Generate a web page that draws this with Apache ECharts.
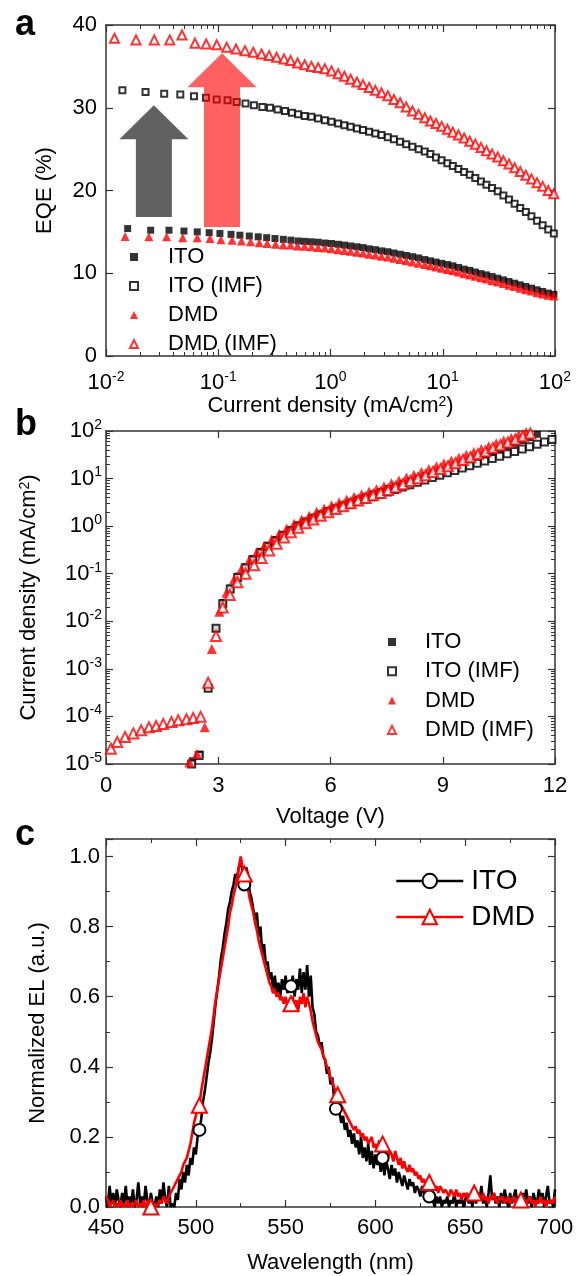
<!DOCTYPE html>
<html>
<head>
<meta charset="utf-8">
<script src="https://cdn.jsdelivr.net/npm/echarts@6.0.0/dist/echarts.min.js"></script>
<style>
  html, body { margin: 0; padding: 0; background: #fff; }
  #chart { width: 577px; height: 1276px; }
</style>
</head>
<body>
<div id="chart"></div>
<script>
// ---------- panel a : EQE vs current density ----------
// points above ~0.5 mA/cm2 are dense, all four curves share roughly the same J
const jHigh = [0.589, 0.676, 0.776, 0.891, 1.02, 1.17, 1.33, 1.51, 1.72, 1.95,
  2.21, 2.51, 2.85, 3.24, 3.67, 4.17, 4.73, 5.37, 6.10, 6.92,
  7.76, 8.71, 9.77, 11.0, 12.3, 13.8, 15.5, 17.4, 19.5, 21.9,
  24.5, 27.5, 30.9, 34.7, 38.9, 43.7, 49.0, 55.0, 61.7, 69.2,
  77.6, 87.1, 97.7];

const itoJ = [0.0156, 0.025, 0.0364, 0.0495, 0.065, 0.083, 0.1035, 0.13, 0.156, 0.189, 0.227, 0.27, 0.32, 0.38, 0.444, 0.515];
const itoEqe = [15.4, 15.2, 15.2, 15.1, 15.0, 14.9, 14.8, 14.7, 14.6, 14.5, 14.4, 14.3, 14.2, 14.1, 14.0, 13.9,
  13.85, 13.8, 13.75, 13.65, 13.6, 13.5, 13.4, 13.3, 13.2, 13.1,
  12.95, 12.85, 12.7, 12.6, 12.45, 12.3, 12.15, 12.0, 11.85, 11.65,
  11.5, 11.35, 11.2, 11.05, 10.9, 10.7, 10.5, 10.35, 10.15, 9.95,
  9.8, 9.6, 9.4, 9.2, 9.0, 8.8, 8.6, 8.4, 8.2, 8.0,
  7.8, 7.6, 7.45];

const itoImfJ = [0.014, 0.0225, 0.033, 0.0459, 0.0608, 0.0777, 0.0968, 0.121, 0.146, 0.175, 0.208, 0.247, 0.289, 0.338, 0.393, 0.453, 0.515];
const itoImfEqe = [32.1, 31.9, 31.7, 31.6, 31.4, 31.2, 31.0, 30.9, 30.7, 30.5, 30.3, 30.1, 30.0, 29.8, 29.6, 29.4, 29.2,
  29.0, 28.9, 28.7, 28.5, 28.3, 28.1, 27.9, 27.7, 27.5, 27.3,
  27.1, 26.9, 26.7, 26.45, 26.2, 25.9, 25.6, 25.3, 25.0, 24.7,
  24.4, 24.0, 23.65, 23.3, 22.95, 22.6, 22.25, 21.9, 21.5, 21.1,
  20.7, 20.3, 19.9, 19.4, 18.9, 18.4, 17.9, 17.4, 16.9, 16.35,
  15.8, 15.3, 14.8];

const dmdJ = [0.0148, 0.0241, 0.0347, 0.0482, 0.065, 0.0844, 0.1057, 0.133, 0.161, 0.194, 0.232, 0.273, 0.324, 0.379, 0.441, 0.509];
const dmdEqe = [14.45, 14.4, 14.4, 14.3, 14.3, 14.2, 14.05, 14.0, 13.9, 13.8, 13.7, 13.6, 13.5, 13.4, 13.4, 13.3,
  13.25, 13.2, 13.1, 13.05, 12.95, 12.85, 12.75, 12.65, 12.55, 12.45,
  12.3, 12.2, 12.05, 11.95, 11.8, 11.65, 11.5, 11.35, 11.2, 11.05,
  10.9, 10.75, 10.6, 10.45, 10.3, 10.15, 9.95, 9.8, 9.65, 9.45,
  9.3, 9.1, 8.95, 8.75, 8.55, 8.4, 8.2, 8.0, 7.85, 7.65,
  7.5, 7.35, 7.25];

const dmdImfJ = [0.0119, 0.0185, 0.0269, 0.037, 0.0475, 0.062, 0.078, 0.097, 0.119, 0.144, 0.173, 0.205, 0.243, 0.284, 0.331, 0.385, 0.441, 0.509];
const dmdImfEqe = [38.4, 38.2, 38.2, 38.2, 38.8, 37.8, 37.7, 37.6, 37.3, 37.1, 36.9, 36.7, 36.5, 36.3, 36.1, 35.9, 35.7, 35.4,
  35.2, 35.0, 34.85, 34.7, 34.45, 34.1, 33.8, 33.45, 33.1, 32.8,
  32.45, 32.1, 31.8, 31.45, 31.0, 30.6, 30.1, 29.6, 29.2, 28.8,
  28.4, 28.1, 27.75, 27.4, 27.05, 26.7, 26.35, 25.95, 25.6, 25.2,
  24.8, 24.4, 24.05, 23.6, 23.2, 22.75, 22.3, 21.85, 21.4, 20.95,
  20.5, 20.0, 19.6];

// arrows drawn on panel a (data coords: J, EQE at tip and at base)
const arrowGray = { j: 0.0267, tip: 30.3, base: 16.8, color: 'rgba(0,0,0,0.62)' };
const arrowRed = { j: 0.108, tip: 36.6, base: 15.6, color: 'rgba(255,0,0,0.62)' };

// ---------- panel b : J-V ----------
const itoV = [2.05, 2.31, 2.51, 2.72, 2.93, 3.13, 3.33, 3.53, 3.73, 3.93, 4.13, 4.33, 4.53, 4.73, 4.93,
  5.13, 5.33, 5.53, 5.73, 5.93, 6.13, 6.33, 6.53, 6.73, 6.93, 7.13, 7.33, 7.53, 7.73, 7.93,
  8.13, 8.33, 8.53, 8.73, 8.93, 9.13, 9.33, 9.53, 9.73, 9.93, 10.13, 10.33, 10.53, 10.73, 10.93,
  11.13, 11.33, 11.53];
const itoJV = [8e-6, 1.17e-5, 1.62e-5, 4e-4, 7e-3, 0.025, 0.05, 0.089, 0.141, 0.209, 0.295, 0.398, 0.525, 0.676, 0.851,
  1.07, 1.29, 1.55, 1.82, 2.14, 2.45, 2.82, 3.24, 3.72, 4.17, 4.79, 5.37, 6.17, 6.92, 7.94,
  8.91, 10.2, 11.5, 13.2, 14.8, 17.0, 19.1, 21.9, 24.5, 28.2, 31.6, 36.3, 41.7, 47.9, 55.0,
  63.1, 72.4, 85.1];

const itoImfV = [2.09, 2.29, 2.49, 2.73, 2.94, 3.12, 3.32, 3.52, 3.72, 3.92, 4.12, 4.32, 4.52, 4.72, 4.92,
  5.12, 5.32, 5.52, 5.72, 5.92, 6.12, 6.32, 6.52, 6.72, 6.92, 7.12, 7.32, 7.52, 7.72, 7.92,
  8.12, 8.32, 8.52, 8.72, 8.92, 9.12, 9.32, 9.52, 9.72, 9.92, 10.12, 10.32, 10.52, 10.72, 10.92,
  11.12, 11.32, 11.52, 11.72, 11.92];
const itoImfJV = [7e-6, 1.0e-5, 1.5e-5, 3.9e-4, 7.1e-3, 0.0234, 0.048, 0.083, 0.132, 0.195, 0.275, 0.372, 0.49, 0.631, 0.794,
  0.977, 1.17, 1.41, 1.66, 1.95, 2.24, 2.57, 2.88, 3.31, 3.72, 4.17, 4.68, 5.25, 5.89, 6.61,
  7.41, 8.32, 9.33, 10.5, 11.7, 13.2, 14.8, 16.6, 18.6, 20.9, 23.4, 26.3, 29.5, 33.1, 37.2,
  41.7, 46.8, 52.5, 58.9, 66.1];

const dmdV = [2.03, 2.23, 2.43, 2.64, 2.83, 3.03, 3.22, 3.42, 3.62, 3.83, 4.03, 4.23, 4.43, 4.63, 4.83,
  5.03, 5.23, 5.43, 5.63, 5.83, 6.03, 6.23, 6.43, 6.63, 6.83, 7.03, 7.23, 7.43, 7.63, 7.83,
  8.03, 8.23, 8.43, 8.63, 8.83, 9.03, 9.23, 9.43, 9.63, 9.83, 10.03, 10.23, 10.43, 10.63, 10.83,
  11.03, 11.23];
const dmdJV = [6e-6, 1.07e-5, 1.62e-5, 5.9e-5, 2.6e-3, 0.0158, 0.04, 0.076, 0.126, 0.195, 0.282, 0.389, 0.525, 0.692, 0.891,
  1.12, 1.38, 1.66, 2.0, 2.34, 2.75, 3.16, 3.63, 4.17, 4.68, 5.37, 6.03, 6.92, 7.94, 9.12,
  10.5, 12.0, 13.8, 15.8, 18.2, 20.9, 24.0, 27.5, 31.6, 36.3, 41.7, 47.9, 55.0, 63.1, 72.4,
  83.2, 95.5];

const dmdImfV = [0.13, 0.30, 0.51, 0.73, 0.94, 1.15, 1.34, 1.53, 1.75, 1.93, 2.15, 2.33, 2.53,
  2.73, 2.94, 3.12, 3.31, 3.51, 3.73, 3.96, 4.16, 4.36, 4.56, 4.76, 4.94,
  5.14, 5.34, 5.54, 5.74, 5.94, 6.14, 6.34, 6.54, 6.74, 6.94, 7.14, 7.34, 7.54, 7.74, 7.94,
  8.14, 8.34, 8.54, 8.74, 8.94, 9.14, 9.34, 9.54, 9.74, 9.94, 10.14, 10.34, 10.54, 10.74, 10.94,
  11.14, 11.34];
const dmdImfJV = [2.1e-5, 2.9e-5, 3.7e-5, 4.4e-5, 5.1e-5, 5.9e-5, 6.3e-5, 6.9e-5, 7.6e-5, 8.3e-5, 8.7e-5, 9.3e-5, 9.8e-5,
  5.1e-4, 4.9e-3, 0.0195, 0.0355, 0.066, 0.1, 0.15, 0.214, 0.309, 0.427, 0.575, 0.741,
  0.93, 1.15, 1.38, 1.66, 1.95, 2.29, 2.63, 3.02, 3.47, 3.89, 4.47, 5.0, 5.75, 6.6, 7.6,
  8.9, 10.2, 11.7, 13.8, 15.8, 18.2, 20.9, 24.5, 28.2, 32.4, 37.2, 43.7, 50.1, 57.5, 66.1,
  77.6, 89.1];

// ---------- panel c : EL spectra (1 nm steps from 450 nm) ----------
const wlStart = 450;
const itoEL = [0.03, 0.00, 0.06, 0.01, 0.04, 0.00, 0.05, 0.02, 0.00, 0.04,
  0.01, 0.06, 0.00, 0.03, 0.01, 0.05, 0.00, 0.02, 0.07, 0.01,
  0.03, 0.00, 0.06, 0.02, 0.00, 0.04, 0.01, 0.00, 0.03, 0.00,
  0.05, 0.01, 0.07, 0.02, 0.00, 0.06, 0.00, 0.01, 0.00, 0.04,
  0.02, 0.08, 0.05, 0.10, 0.07, 0.12, 0.09, 0.14, 0.12, 0.17,
  0.15, 0.20, 0.22, 0.25, 0.30, 0.33, 0.37, 0.41, 0.44, 0.48,
  0.53, 0.58, 0.62, 0.66, 0.71, 0.74, 0.78, 0.81, 0.85, 0.87,
  0.90, 0.92, 0.95, 0.94, 0.97, 0.99, 0.96, 0.92, 0.97, 0.95,
  0.90, 0.88, 0.85, 0.82, 0.84, 0.77, 0.80, 0.72, 0.75, 0.69,
  0.70, 0.65, 0.67, 0.62, 0.66, 0.61, 0.64, 0.60, 0.65, 0.62,
  0.66, 0.61, 0.64, 0.63, 0.66, 0.60, 0.65, 0.62, 0.68, 0.61,
  0.67, 0.62, 0.69, 0.60, 0.66, 0.57, 0.55, 0.50, 0.49, 0.46,
  0.47, 0.43, 0.42, 0.38, 0.40, 0.35, 0.37, 0.31, 0.28, 0.29,
  0.27, 0.24, 0.26, 0.22, 0.24, 0.20, 0.22, 0.18, 0.21, 0.17,
  0.19, 0.15, 0.20, 0.14, 0.17, 0.13, 0.18, 0.12, 0.16, 0.11,
  0.15, 0.12, 0.14, 0.10, 0.14, 0.09, 0.13, 0.11, 0.08, 0.12,
  0.09, 0.11, 0.07, 0.10, 0.08, 0.06, 0.09, 0.07, 0.05, 0.08,
  0.06, 0.07, 0.04, 0.06, 0.05, 0.03, 0.06, 0.04, 0.02, 0.05,
  0.03, 0.04, 0.02, 0.00, 0.03, 0.01, 0.03, 0.00, 0.02, 0.01,
  0.03, 0.00, 0.02, 0.01, 0.04, 0.00, 0.02, 0.01, 0.03, 0.00,
  0.02, 0.04, 0.01, 0.03, 0.00, 0.05, 0.01, 0.03, 0.02, 0.06,
  0.01, 0.03, 0.00, 0.04, 0.09, 0.02, 0.04, 0.01, 0.03, 0.00,
  0.04, 0.01, 0.05, 0.02, 0.00, 0.04, 0.01, 0.03, 0.05, 0.01,
  0.03, 0.00, 0.04, 0.02, 0.05, 0.01, 0.03, 0.00, 0.04, 0.02,
  0.01, 0.05, 0.02, 0.04, 0.00, 0.03, 0.06, 0.01, 0.02, 0.00,
  0.05];
const dmdEL = [0.03, 0.02, 0.00, 0.01, 0.02, 0.00, 0.01, 0.00, 0.02, 0.00,
  0.01, 0.00, 0.02, 0.00, 0.01, 0.00, 0.01, 0.02, 0.00, 0.01,
  0.00, 0.02, 0.00, 0.01, 0.02, 0.00, 0.00, 0.01, 0.00, 0.01,
  0.02, 0.01, 0.03, 0.02, 0.01, 0.03, 0.04, 0.05, 0.06, 0.07,
  0.08, 0.09, 0.10, 0.12, 0.13, 0.14, 0.16, 0.18, 0.21, 0.24,
  0.26, 0.28, 0.29, 0.33, 0.36, 0.39, 0.42, 0.45, 0.48, 0.51,
  0.55, 0.59, 0.62, 0.65, 0.68, 0.71, 0.74, 0.77, 0.80, 0.84,
  0.86, 0.89, 0.91, 0.94, 0.97, 1.00, 0.97, 0.95, 0.93, 0.91,
  0.88, 0.86, 0.84, 0.81, 0.79, 0.76, 0.74, 0.72, 0.70, 0.68,
  0.66, 0.64, 0.63, 0.61, 0.62, 0.60, 0.61, 0.59, 0.60, 0.58,
  0.60, 0.57, 0.59, 0.58, 0.60, 0.57, 0.59, 0.56, 0.60, 0.58,
  0.61, 0.57, 0.60, 0.58, 0.56, 0.53, 0.51, 0.49, 0.47, 0.46,
  0.45, 0.43, 0.42, 0.40, 0.39, 0.37, 0.36, 0.34, 0.33, 0.32,
  0.30, 0.29, 0.28, 0.27, 0.27, 0.25, 0.24, 0.24, 0.22, 0.23,
  0.21, 0.22, 0.20, 0.21, 0.19, 0.20, 0.18, 0.19, 0.20, 0.17,
  0.18, 0.16, 0.19, 0.17, 0.18, 0.15, 0.17, 0.14, 0.16, 0.15,
  0.13, 0.16, 0.14, 0.12, 0.14, 0.11, 0.13, 0.11, 0.10, 0.12,
  0.10, 0.11, 0.09, 0.10, 0.08, 0.09, 0.07, 0.08, 0.06, 0.08,
  0.07, 0.06, 0.07, 0.05, 0.06, 0.04, 0.06, 0.05, 0.04, 0.05,
  0.05, 0.03, 0.05, 0.04, 0.03, 0.05, 0.03, 0.04, 0.02, 0.04,
  0.03, 0.04, 0.02, 0.03, 0.05, 0.04, 0.02, 0.04, 0.03, 0.02,
  0.04, 0.02, 0.03, 0.01, 0.03, 0.02, 0.04, 0.02, 0.01, 0.03,
  0.02, 0.03, 0.01, 0.02, 0.03, 0.01, 0.02, 0.03, 0.01, 0.02,
  0.02, 0.02, 0.03, 0.02, 0.01, 0.02, 0.03, 0.01, 0.02, 0.00,
  0.02, 0.01, 0.03, 0.01, 0.02, 0.00, 0.02, 0.01, 0.02, 0.01,
  0.03];
const itoMarks = [502, 527, 553, 578, 604, 630];
const dmdMarks = [475, 502, 527, 553, 579, 604, 630, 655, 681];

// ---------- helpers ----------
const FONT = '"Liberation Sans", Arial, sans-serif';
const AXIS = '#333';

const pairs = (xs, ys) => xs.map((x, i) => [x, ys[i]]);

function spectrum(values, marks) {
  return values.map((v, i) => {
    const w = wlStart + i;
    return marks.includes(w) ? { value: [w, v] } : { value: [w, v], symbol: 'none' };
  });
}

const powRich = {
  b: { fontSize: 22, lineHeight: 26, fontFamily: FONT, color: '#000' },
  s: { fontSize: 14, lineHeight: 14, verticalAlign: 'top', fontFamily: FONT, color: '#000' }
};
const powLabel = v => '{b|10}{s|' + Math.round(Math.log10(v)) + '}';

function axis(gridIndex, position, scale, label, name) {
  const shown = position === 'bottom' || position === 'left';
  const a = Object.assign({
    gridIndex: gridIndex,
    position: position,
    axisLine: { show: true, onZero: false, lineStyle: { color: AXIS, width: 1.5 } },
    axisTick: { show: true, inside: true, length: 7, lineStyle: { color: AXIS, width: 1.2 } },
    minorTick: { show: !!scale.minor, splitNumber: scale.minor || 5, length: 4, lineStyle: { color: AXIS, width: 1 } },
    splitLine: { show: false },
    minorSplitLine: { show: false },
    axisLabel: Object.assign({ show: shown, color: '#000', fontSize: 22, fontFamily: FONT }, label || {})
  }, scale);
  delete a.minor;
  if (!shown) a.axisLabel.show = false;
  if (name && shown) {
    Object.assign(a, {
      name: name.text,
      nameLocation: 'middle',
      nameGap: name.gap,
      nameTextStyle: Object.assign({ color: '#000', fontSize: 22, fontFamily: FONT }, name.style || {})
    });
  }
  return a;
}

const scaleAx = { type: 'log', logBase: 10, min: 0.01, max: 100, interval: 1, minor: 9 };
const scaleAy = { type: 'value', min: 0, max: 40, interval: 10 };
const scaleBx = { type: 'value', min: 0, max: 12, interval: 3 };
const scaleBy = { type: 'log', logBase: 10, min: 1e-5, max: 100, interval: 1, minor: 9 };
const scaleCx = { type: 'value', min: 450, max: 700, interval: 50, minor: 2 };
const scaleCy = { type: 'value', min: 0, max: 1.05, interval: 0.2, minor: 2 };

const supName = { rich: { s: { fontSize: 14, verticalAlign: 'top', fontFamily: FONT, color: '#000' } } };

const chart = echarts.init(document.getElementById('chart'), null, { renderer: 'canvas' });

const option = {
  animation: false,
  backgroundColor: '#fff',
  textStyle: { fontFamily: FONT },
  grid: [
    { left: 106, top: 25, width: 449, height: 331 },
    { left: 106, top: 431, width: 449, height: 333 },
    { left: 106, top: 839, width: 449, height: 368 }
  ],
  xAxis: [
    axis(0, 'bottom', scaleAx, { formatter: powLabel, rich: powRich, margin: 14 },
      { text: 'Current density (mA/cm{s|2})', gap: 39, style: supName }),
    axis(0, 'top', scaleAx),
    axis(1, 'bottom', scaleBx, { margin: 11 }, { text: 'Voltage (V)', gap: 42 }),
    axis(1, 'top', scaleBx),
    axis(2, 'bottom', scaleCx, { margin: 10 }, { text: 'Wavelength (nm)', gap: 45 }),
    axis(2, 'top', scaleCx)
  ],
  yAxis: [
    axis(0, 'left', scaleAy, { margin: 9 }, { text: 'EQE (%)', gap: 50 }),
    axis(0, 'right', scaleAy),
    axis(1, 'left', scaleBy, { formatter: powLabel, rich: powRich, margin: 4 },
      { text: 'Current density (mA/cm{s|2})', gap: 66, style: supName }),
    axis(1, 'right', scaleBy),
    axis(2, 'left', scaleCy, {
      margin: 6,
      formatter: v => Math.abs(v * 5 - Math.round(v * 5)) < 1e-6 ? v.toFixed(1) : ''
    }, { text: 'Normalized EL (a.u.)', gap: 57 }),
    axis(2, 'right', scaleCy)
  ],
  legend: [
    {
      orient: 'vertical', left: 124, top: 241, itemWidth: 8, itemHeight: 8, itemGap: 7,
      selectedMode: false, data: ['ITO', 'ITO (IMF)', 'DMD', 'DMD (IMF)'],
      textStyle: { fontSize: 22, lineHeight: 22, fontFamily: FONT, color: '#000', padding: [0, 0, 0, 25] }
    },
    {
      orient: 'vertical', left: 382, top: 626, itemWidth: 8, itemHeight: 8, itemGap: 7.3,
      selectedMode: false, data: ['ITO', 'ITO (IMF)', 'DMD', 'DMD (IMF)'],
      textStyle: { fontSize: 22, lineHeight: 22, fontFamily: FONT, color: '#000', padding: [0, 0, 0, 24] }
    },
    {
      orient: 'vertical', left: 390, top: 862, itemWidth: 67, itemHeight: 18, itemGap: 8,
      selectedMode: false, data: ['ITO EL', 'DMD EL'],
      formatter: n => n.replace(' EL', ''),
      lineStyle: { width: 2.6 },
      textStyle: { fontSize: 28, lineHeight: 28, fontFamily: FONT, color: '#000', padding: [0, 0, 0, 3] }
    }
  ],
  series: [
    // panel a
    { name: 'ITO', type: 'scatter', xAxisIndex: 0, yAxisIndex: 0, data: pairs(itoJ.concat(jHigh), itoEqe),
      symbol: 'rect', symbolSize: 7, itemStyle: { color: '#000' } },
    { name: 'ITO (IMF)', type: 'scatter', xAxisIndex: 0, yAxisIndex: 0, data: pairs(itoImfJ.concat(jHigh), itoImfEqe),
      symbol: 'emptyRect', symbolSize: 6, itemStyle: { color: '#000', borderWidth: 1.5 } },
    { name: 'DMD', type: 'scatter', xAxisIndex: 0, yAxisIndex: 0, data: pairs(dmdJ.concat(jHigh), dmdEqe),
      symbol: 'triangle', symbolSize: 9, itemStyle: { color: '#ff0000' } },
    { name: 'DMD (IMF)', type: 'scatter', xAxisIndex: 0, yAxisIndex: 0, data: pairs(dmdImfJ.concat(jHigh), dmdImfEqe),
      symbol: 'emptyTriangle', symbolSize: 9, itemStyle: { color: '#ff0000', borderWidth: 1.4 } },
    // panel b
    { name: 'ITO', type: 'scatter', xAxisIndex: 2, yAxisIndex: 2, data: pairs(itoV, itoJV),
      symbol: 'rect', symbolSize: 7, itemStyle: { color: '#000' } },
    { name: 'ITO (IMF)', type: 'scatter', xAxisIndex: 2, yAxisIndex: 2, data: pairs(itoImfV, itoImfJV),
      symbol: 'emptyRect', symbolSize: 7, itemStyle: { color: '#000', borderWidth: 1.5 } },
    { name: 'DMD', type: 'scatter', xAxisIndex: 2, yAxisIndex: 2, data: pairs(dmdV, dmdJV),
      symbol: 'triangle', symbolSize: 10, itemStyle: { color: '#ff0000' } },
    { name: 'DMD (IMF)', type: 'scatter', xAxisIndex: 2, yAxisIndex: 2, data: pairs(dmdImfV, dmdImfJV),
      symbol: 'emptyTriangle', symbolSize: 10, itemStyle: { color: '#ff0000', borderWidth: 1.5 } },
    // panel c
    { name: 'ITO EL', type: 'line', xAxisIndex: 4, yAxisIndex: 4, data: spectrum(itoEL, itoMarks),
      symbol: 'emptyCircle', symbolSize: 12, showSymbol: true, color: '#000',
      lineStyle: { width: 2.6, color: '#000' }, itemStyle: { color: '#000', borderWidth: 1.5 } },
    { name: 'DMD EL', type: 'line', xAxisIndex: 4, yAxisIndex: 4, data: spectrum(dmdEL, dmdMarks),
      symbol: 'emptyTriangle', symbolSize: 15, showSymbol: true, color: '#ff0000',
      lineStyle: { width: 2.6, color: '#ff0000' }, itemStyle: { color: '#ff0000', borderWidth: 1.5 } }
  ]
};

chart.setOption(option);

// big arrows in panel a, placed from data coordinates
function arrow(a) {
  const tip = chart.convertToPixel({ xAxisIndex: 0, yAxisIndex: 0 }, [a.j, a.tip]);
  const base = chart.convertToPixel({ xAxisIndex: 0, yAxisIndex: 0 }, [a.j, a.base]);
  const x = tip[0], ty = tip[1], by = base[1];
  const shaft = 18, head = 34.5, headLen = 34;
  return {
    type: 'polygon', z: 100, silent: true,
    shape: { points: [[x - shaft, by], [x - shaft, ty + headLen], [x - head, ty + headLen], [x, ty],
      [x + head, ty + headLen], [x + shaft, ty + headLen], [x + shaft, by]] },
    style: { fill: a.color }
  };
}

const letter = (t, y) => ({
  type: 'text', x: 15, y: y, z: 100, silent: true,
  style: { text: t, fill: '#000', font: 'bold 36px ' + FONT, align: 'left', verticalAlign: 'middle' }
});

chart.setOption({
  graphic: [arrow(arrowGray), arrow(arrowRed), letter('a', 25.5), letter('b', 425.5), letter('c', 835.5)]
});
</script>
</body>
</html>
